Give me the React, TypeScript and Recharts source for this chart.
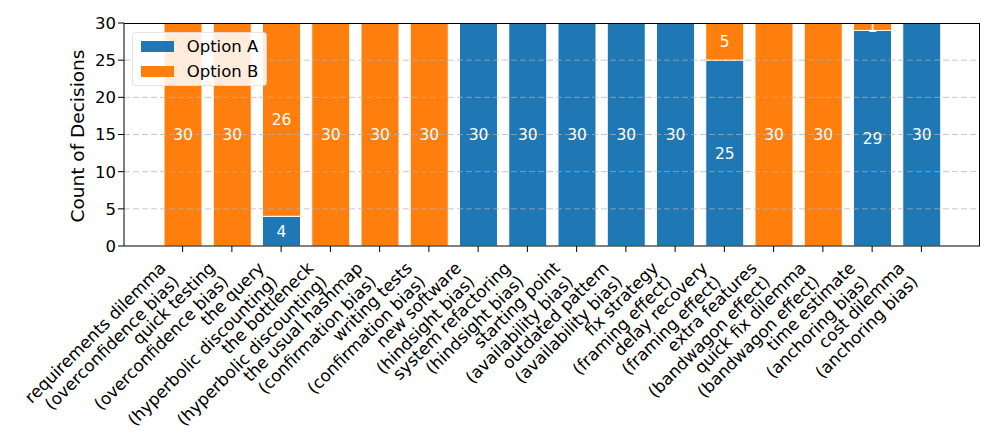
import React from 'react'
import { BarChart, Bar, XAxis, YAxis, ReferenceLine, LabelList } from 'recharts'

const scenarios = [
  'requirements dilemma', 'quick testing', 'the query', 'the bottleneck',
  'the usual hashmap', 'writing tests', 'new software', 'system refactoring',
  'starting point', 'outdated pattern', 'fix strategy', 'delay recovery',
  'extra features', 'quick fix dilemma', 'time estimate', 'cost dilemma',
]
const biases = [
  'overconfidence bias', 'overconfidence bias', 'hyperbolic discounting', 'hyperbolic discounting',
  'confirmation bias', 'confirmation bias', 'hindsight bias', 'hindsight bias',
  'availability bias', 'availability bias', 'framing effect', 'framing effect',
  'bandwagon effect', 'bandwagon effect', 'anchoring bias', 'anchoring bias',
]
const optionA = [0, 0, 4, 0, 0, 0, 30, 30, 30, 30, 30, 25, 0, 0, 29, 30]
const optionB = [30, 30, 26, 30, 30, 30, 0, 0, 0, 0, 0, 5, 30, 30, 1, 0]
const yTicks = [0, 5, 10, 15, 20, 25, 30]
const gridLines = [5, 10, 15, 20, 25]

const BLUE = '#1f77b4'
const ORANGE = '#ff7f0e'
const FONT = '"DejaVu Sans", sans-serif'

const data = scenarios.map((s, i) => ({
  name: s,
  bias: biases[i],
  a: optionA[i],
  b: optionB[i],
}))

const XTick = (props: any) => {
  const { x, y, index } = props
  const d = data[index]
  if (!d) return null
  return (
    <g transform={`translate(${x - 25},${y + 6}) rotate(-45)`}>
      <text textAnchor="end" fontSize={16.8} fill="#000" fontFamily={FONT}>
        <tspan x={0} dy={13}>{d.name}</tspan>
        <tspan x={0} dy={19}>({d.bias})</tspan>
      </text>
    </g>
  )
}

const hideZero = (v: any) => (v ? v : '')

export default function App() {
  return (
    <div style={{ position: 'relative', width: 989, height: 435, fontFamily: FONT }}>
      <BarChart
        width={989}
        height={435}
        data={data}
        margin={{ top: 15, right: 17, bottom: 0, left: 0 }}
        barSize={38}
      >
        <XAxis
          dataKey="name"
          interval={0}
          height={197}
          padding={{ left: 34, right: 34 }}
          tickSize={6}
          tick={<XTick />}
          stroke="#000"
          tickLine={{ stroke: '#000' }}
          axisLine={{ stroke: '#000' }}
        />
        <YAxis
          domain={[0, 30]}
          ticks={yTicks}
          width={116}
          tickSize={6}
          tick={{ fontSize: 16.5, fill: '#000', fontFamily: FONT }}
          stroke="#000"
          label={{
            content: () => (
              <text x={69.5} y={128} transform="rotate(-90 69.5 128)" textAnchor="middle" dominantBaseline="central" fontSize={18.5} fontFamily={FONT} fill="#000">
                Count of Decisions
              </text>
            ),
          }}
        />
        <Bar dataKey="a" stackId="s" fill={BLUE} stroke="#fff" strokeWidth={1} isAnimationActive={false}>
          <LabelList dataKey="a" position="center" fill="#fff" fontSize={15.5} fontFamily={FONT} formatter={hideZero} />
        </Bar>
        <Bar dataKey="b" stackId="s" fill={ORANGE} stroke="#fff" strokeWidth={1} isAnimationActive={false}>
          <LabelList dataKey="b" position="center" fill="#fff" fontSize={15.5} fontFamily={FONT} formatter={hideZero} />
        </Bar>
        {gridLines.map((v) => (
          <ReferenceLine key={v} y={v} stroke="#b0b0b0" strokeOpacity={0.7} strokeDasharray="6 3" />
        ))}
      </BarChart>
      {/* plot frame (top and right spines) */}
      <div
        style={{
          position: 'absolute',
          left: 116,
          top: 15,
          width: 856,
          height: 223,
          borderTop: '1px solid #000',
          borderRight: '1px solid #000',
          boxSizing: 'border-box',
          pointerEvents: 'none',
        }}
      />
      <div
        style={{
          position: 'absolute',
          left: 123.7,
          top: 23.5,
          width: 135,
          height: 54.5,
          background: 'rgba(255,255,255,0.85)',
          border: '1px solid rgba(204,204,204,0.5)',
          borderRadius: 4,
          boxSizing: 'border-box',
          fontSize: 16.5,
          color: '#000',
        }}
      >
        {[['Option A', BLUE], ['Option B', ORANGE]].map(([label, color], i) => (
          <div key={label} style={{ position: 'absolute', left: 8, top: 8 + i * 25, height: 11, display: 'flex', alignItems: 'center' }}>
            <span style={{ display: 'inline-block', width: 33, height: 11, background: color }} />
            <span style={{ marginLeft: 13, lineHeight: '11px', whiteSpace: 'nowrap' }}>{label}</span>
          </div>
        ))}
      </div>
    </div>
  )
}
